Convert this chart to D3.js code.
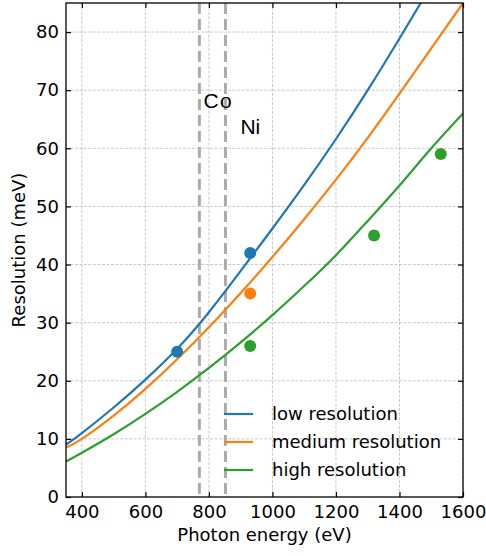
<!DOCTYPE html>
<html>
<head>
<meta charset="utf-8">
<script src="https://cdn.jsdelivr.net/npm/d3@7/dist/d3.min.js"></script>
<style>
  body { margin: 0; background: #fff; }
  text { font-family: "DejaVu Sans", sans-serif; fill: #000; }
</style>
</head>
<body>
<div id="chart"></div>
<script>
// curve samples (eV -> meV)
var energy = [350, 400, 500, 600, 700, 800, 900, 1000, 1100, 1200, 1300, 1400, 1500, 1600];
var lowEnergy = [350, 400, 500, 600, 700, 800, 900, 1000, 1100, 1200, 1300, 1400, 1470];
var lowRes = [9.0, 11.0, 15.4, 20.2, 25.5, 31.8, 38.9, 46.2, 53.7, 61.6, 70.0, 78.9, 85.3];
var mediumRes = [8.5, 10.0, 14.0, 18.6, 23.7, 29.2, 35.1, 41.3, 47.8, 54.6, 61.8, 69.4, 77.2, 85.0];
var highRes = [6.1, 7.6, 10.8, 14.3, 18.1, 22.2, 26.6, 31.3, 36.3, 41.6, 47.5, 53.6, 60.0, 66.0];

// measured points
var lowPts = [[700, 25], [930, 42]];
var mediumPts = [[930, 35]];
var highPts = [[930, 26], [1320, 45], [1530, 59]];

var edges = [{name: "Co", e: 770}, {name: "Ni", e: 852}];
var xTicks = [400, 600, 800, 1000, 1200, 1400, 1600];
var yTicks = [0, 10, 20, 30, 40, 50, 60, 70, 80];

var margin = {top: 3, right: 23, bottom: 59, left: 66},
  width = 486 - margin.left - margin.right,
  height = 556 - margin.top - margin.bottom;

var x = d3.scaleLinear().domain([350, 1600]).range([0, width]),
  y = d3.scaleLinear().domain([0, 85]).range([height, 0]);

var svg = d3.select("#chart")
  .append("svg")
  .attr("width", 486)
  .attr("height", 556)
  .append("g")
  .attr("transform", "translate(" + margin.left + "," + margin.top + ")");

svg.append("clipPath").attr("id", "clip")
  .append("rect").attr("width", width).attr("height", height);

// grid
svg.append("g").selectAll("line").data(xTicks).enter().append("line")
  .attr("x1", function(d) { return x(d); }).attr("x2", function(d) { return x(d); })
  .attr("y1", 0).attr("y2", height)
  .attr("stroke", "#bdbdbd").attr("stroke-width", 0.8).attr("stroke-dasharray", "3,1.5");
svg.append("g").selectAll("line").data(yTicks.slice(1)).enter().append("line")
  .attr("y1", function(d) { return y(d); }).attr("y2", function(d) { return y(d); })
  .attr("x1", 0).attr("x2", width)
  .attr("stroke", "#bdbdbd").attr("stroke-width", 0.8).attr("stroke-dasharray", "3,1.5");

// absorption edges
svg.append("g").selectAll("line").data(edges).enter().append("line")
  .attr("x1", function(d) { return x(d.e); }).attr("x2", function(d) { return x(d.e); })
  .attr("y1", 0).attr("y2", height)
  .attr("stroke", "#ababab").attr("stroke-width", 3).attr("stroke-dasharray", "11,5");

svg.append("text").attr("x", x(770) + 4).attr("y", 105)
  .style("font-family", "Liberation Sans, Arial, sans-serif").style("font-size", "21px")
  .style("letter-spacing", "1.5px").text("Co");
svg.append("text").attr("x", x(852) + 15).attr("y", 131)
  .style("font-family", "Liberation Sans, Arial, sans-serif").style("font-size", "21px")
  .text("Ni");

var series = [
  {label: "low resolution", color: "#1f77b4", xs: lowEnergy, ys: lowRes, pts: lowPts},
  {label: "medium resolution", color: "#ff7f0e", xs: energy, ys: mediumRes, pts: mediumPts},
  {label: "high resolution", color: "#2ca02c", xs: energy, ys: highRes, pts: highPts}
];

var line = d3.line()
  .x(function(d) { return x(d[0]); })
  .y(function(d) { return y(d[1]); })
  .curve(d3.curveNatural);

var plot = svg.append("g").attr("clip-path", "url(#clip)");

series.forEach(function(s) {
  plot.append("path")
    .datum(d3.zip(s.xs, s.ys))
    .attr("fill", "none")
    .attr("stroke", s.color)
    .attr("stroke-width", 2.2)
    .attr("d", line);
});

series.forEach(function(s) {
  plot.selectAll(null).data(s.pts).enter().append("circle")
    .attr("cx", function(d) { return x(d[0]); })
    .attr("cy", function(d) { return y(d[1]); })
    .attr("r", 6)
    .attr("fill", s.color);
});

// axes, ticks pointing inward on all sides
var fmt = d3.format("d");
var xAxis = d3.axisBottom(x).tickValues(xTicks).tickFormat(fmt).tickSizeInner(-5).tickSizeOuter(0).tickPadding(8.5);
var yAxis = d3.axisLeft(y).tickValues(yTicks).tickFormat(fmt).tickSizeInner(-5).tickSizeOuter(0).tickPadding(7);

var gx = svg.append("g").attr("transform", "translate(0," + height + ")").call(xAxis);
var gy = svg.append("g").call(yAxis);
svg.append("g").call(d3.axisTop(x).tickValues(xTicks).tickSizeInner(-5).tickSizeOuter(0).tickFormat(""));
svg.append("g").attr("transform", "translate(" + width + ",0)")
  .call(d3.axisRight(y).tickValues(yTicks).tickSizeInner(-5).tickSizeOuter(0).tickFormat(""));

svg.selectAll(".domain").remove();
svg.selectAll(".tick line").attr("stroke", "#000").attr("stroke-width", 1.2);
gx.selectAll("text").style("font-size", "18px").style("font-family", "DejaVu Sans");
gy.selectAll("text").style("font-size", "18px").style("font-family", "DejaVu Sans");

svg.append("rect")
  .attr("width", width).attr("height", height)
  .attr("fill", "none").attr("stroke", "#000").attr("stroke-width", 1.3);

svg.append("text")
  .attr("x", width / 2).attr("y", height + 43.5)
  .attr("text-anchor", "middle").style("font-size", "18px")
  .text("Photon energy (eV)");

svg.append("text")
  .attr("transform", "rotate(-90)")
  .attr("x", -height / 2).attr("y", -41)
  .attr("text-anchor", "middle").style("font-size", "18px")
  .text("Resolution (meV)");

// legend
var legend = svg.append("g").attr("transform", "translate(" + (224 - margin.left) + "," + (414 - margin.top) + ")");
series.forEach(function(s, i) {
  var row = legend.append("g").attr("transform", "translate(0," + (i * 28) + ")");
  row.append("line").attr("x1", 0).attr("x2", 29).attr("stroke", s.color).attr("stroke-width", 2.2);
  row.append("text").attr("x", 48).attr("dy", "0.35em").style("font-size", "18px").text(s.label);
});
</script>
</body>
</html>
